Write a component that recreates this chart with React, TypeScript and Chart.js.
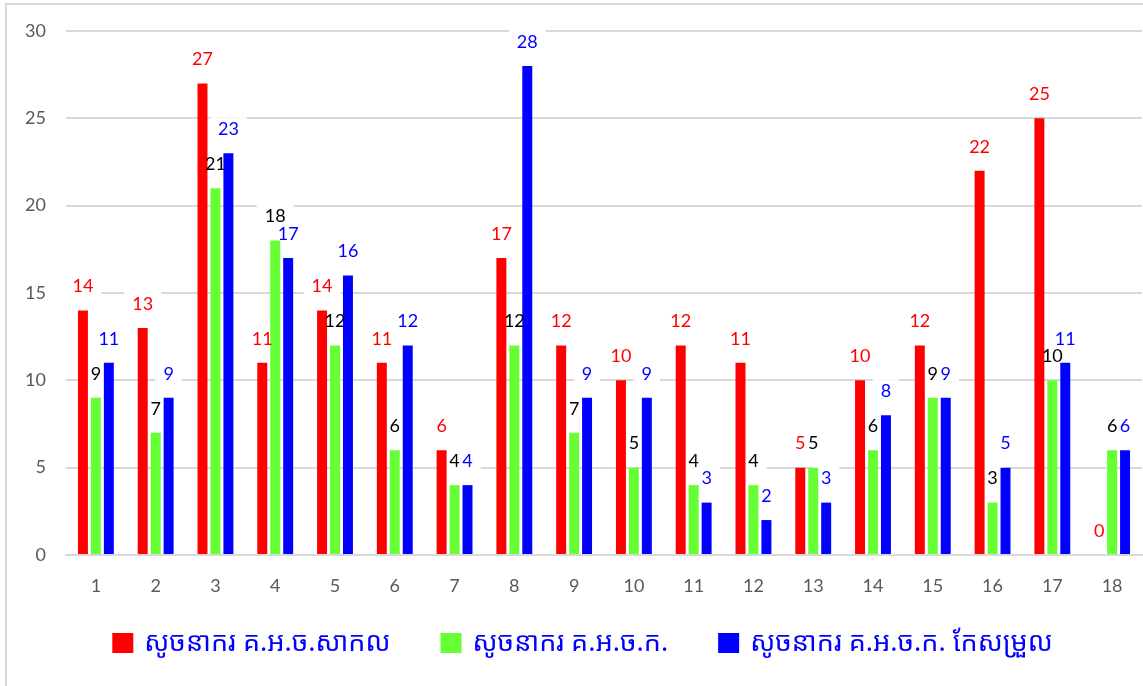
import React, { useEffect, useRef } from 'react';
import { Chart, registerables } from 'chart.js';

Chart.register(...registerables);

const categories = ['1', '2', '3', '4', '5', '6', '7', '8', '9', '10', '11', '12', '13', '14', '15', '16', '17', '18'];
const seriesNames = ['សូចនាករ គ.អ.ច.សាកល', 'សូចនាករ គ.អ.ច.ក.', 'សូចនាករ គ.អ.ច.ក. កែសម្រួល'];
const globalValues = [14, 13, 27, 11, 14, 11, 6, 17, 12, 10, 12, 11, 5, 10, 12, 22, 25, 0];
const originalValues = [9, 7, 21, 18, 12, 6, 4, 12, 7, 5, 4, 4, 5, 6, 9, 3, 10, 6];
const adjustedValues = [11, 9, 23, 17, 16, 12, 4, 28, 9, 9, 3, 2, 3, 8, 9, 5, 11, 6];
const seriesColors = ['#FF0000', '#66FF33', '#0000FF'];
const labelColors = ['#FF0000', '#000000', '#0000FF'];
const legendTextColor = '#0000FF';
const yMin = 0;
const yMax = 30;
const yStep = 5;

const LABEL_FONT = '18px Lato, "Noto Sans", sans-serif';
const LEGEND_FONT = '27px "Noto Sans Khmer", "Khmer OS", "Noto Sans", sans-serif';

const barLabelPlugin = {
  id: 'barLabels',
  beforeDatasetsDraw(chart: any) {
    const ctx = chart.ctx;
    ctx.save();
    ctx.font = LABEL_FONT;
    chart.data.datasets.forEach((ds: any, di: number) => {
      const meta = chart.getDatasetMeta(di);
      meta.data.forEach((bar: any, i: number) => {
        const txt = String(ds.data[i]);
        const w = ctx.measureText(txt).width;
        const cy = bar.y - 24;
        ctx.fillStyle = '#FFFFFF';
        ctx.fillRect(bar.x - w / 2 - 8, cy - 12, w + 16, 24);
      });
    });
    ctx.restore();
  },
  afterDatasetsDraw(chart: any) {
    const ctx = chart.ctx;
    ctx.save();
    ctx.font = LABEL_FONT;
    ctx.textAlign = 'center';
    ctx.textBaseline = 'middle';
    chart.data.datasets.forEach((ds: any, di: number) => {
      const meta = chart.getDatasetMeta(di);
      meta.data.forEach((bar: any, i: number) => {
        ctx.fillStyle = labelColors[di];
        ctx.fillText(String(ds.data[i]), bar.x, bar.y - 24);
      });
    });
    ctx.restore();
  },
};

const legendPlugin = {
  id: 'bottomLegend',
  afterDraw(chart: any) {
    const ctx = chart.ctx;
    ctx.save();
    ctx.font = LEGEND_FONT;
    ctx.textBaseline = 'middle';
    ctx.textAlign = 'left';
    const boxW = 21;
    const boxH = 20;
    const textGap = 11;
    const itemGap = 50;
    const widths = seriesNames.map((n) => boxW + textGap + ctx.measureText(n).width);
    const total = widths.reduce((a, b) => a + b, 0) + itemGap * (widths.length - 1);
    const centerX = chart.width / 2 + 11;
    const cy = 643;
    let x = centerX - total / 2;
    seriesNames.forEach((n, i) => {
      ctx.fillStyle = seriesColors[i];
      ctx.fillRect(x, cy - boxH / 2, boxW, boxH);
      ctx.fillStyle = legendTextColor;
      ctx.fillText(n, x + boxW + textGap, cy);
      x += widths[i] + itemGap;
    });
    ctx.restore();
  },
};

export default function App() {
  const canvasRef = useRef<HTMLCanvasElement | null>(null);

  useEffect(() => {
    if (!canvasRef.current) return;
    const seriesValues = [globalValues, originalValues, adjustedValues];
    const chart = new Chart(canvasRef.current, {
      type: 'bar',
      data: {
        labels: categories,
        datasets: seriesNames.map((name, i) => ({
          label: name,
          data: seriesValues[i],
          backgroundColor: seriesColors[i],
          borderWidth: 0,
          categoryPercentage: 0.65,
          barPercentage: 0.77,
        })),
      },
      options: {
        animation: false,
        responsive: false,
        maintainAspectRatio: false,
        layout: { padding: { top: 31, left: 0, right: 1, bottom: 86 } },
        plugins: {
          tooltip: { enabled: false },
          legend: { display: false },
        },
        scales: {
          x: {
            grid: { display: false, drawTicks: false },
            border: { display: true, color: '#D9D9D9', width: 2 },
            ticks: { color: '#595959', font: { family: 'Lato, "Noto Sans", sans-serif', size: 18 }, padding: 20 },
            afterFit: (s: any) => { s.height = 45; },
          },
          y: {
            min: yMin,
            max: yMax,
            grid: { color: '#D9D9D9', lineWidth: 2, drawTicks: false },
            border: { display: false },
            ticks: { stepSize: yStep, color: '#595959', font: { family: 'Lato, "Noto Sans", sans-serif', size: 18 }, padding: 20 },
            afterFit: (s: any) => { s.width = 66; },
          },
        },
      },
      plugins: [barLabelPlugin, legendPlugin],
    });
    return () => chart.destroy();
  }, []);

  return (
    <div style={{ position: 'absolute', left: 0, top: 0, width: 1143, height: 686, background: '#FFFFFF', overflow: 'hidden' }}>
      <div style={{ position: 'absolute', left: 5, top: 3, width: 1150, height: 700, border: '2px solid #D9D9D9', boxSizing: 'border-box' }} />
      <canvas ref={canvasRef} width={1143} height={686} style={{ position: 'absolute', left: 0, top: 0, width: 1143, height: 686 }} />
    </div>
  );
}
